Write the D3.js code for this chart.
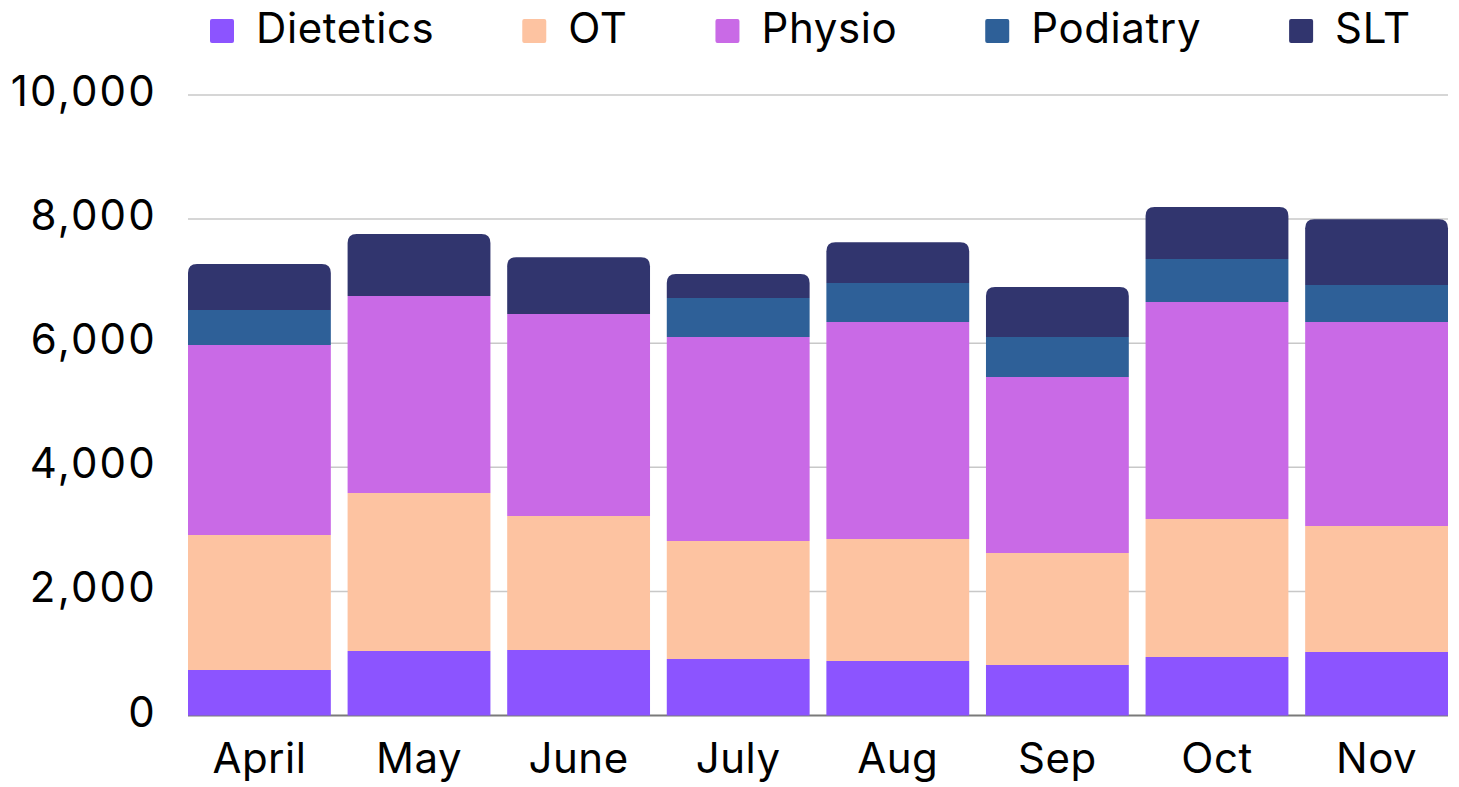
<!DOCTYPE html>
<html lang='en'>
<head>
	<meta charset='utf-8'>
	<title>Therapy Contacts by Month</title>
	<script src="https://d3js.org/d3.v7.min.js"></script>
	<style>
		body{margin:0;background:#fff;}
		text{font-family:Inter,'Open Sans',sans-serif;fill:#000;}
	</style>
</head>
<body>
<div id='chart'></div>
<script type='text/javascript'>
	// values
	const months = ["April","May","June","July","Aug","Sep","Oct","Nov"];
	const dietetics = [733,1039,1056,911,878,814,943,1023];
	const ot = [2176,2547,2159,1901,1966,1805,2224,2031];
	const physio = [3062,3175,3256,3288,3498,2836,3497,3288];
	const podiatry = [564,0,0,628,628,645,693,596];
	const slt = [741,999,913,387,656,806,838,1059];
	const seriesNames = ["Dietetics","OT","Physio","Podiatry","SLT"];
	const yTicks = [0,2000,4000,6000,8000,10000];

	const svg_block = {width:1459,height:787};
	let plot = {left:188,right:1448,top:95,bottom:715.5};
	let colors = d3.scaleOrdinal()
					.domain(seriesNames)
					.range(['#8c54ff','#fdc3a1','#c96ae6','#2e6098','#31356e']);

	//build rows for the stack
	let seriesValues = [dietetics,ot,physio,podiatry,slt];
	let data = months.map(function(m,i){
		let row = {month:m};
		seriesNames.forEach(function(s,j){ row[s] = seriesValues[j][i]; });
		return row;
	});
	let stacked = d3.stack().keys(seriesNames)(data);

	let svg = d3.select("#chart")
				.append("svg")
					.attr("width",svg_block.width)
					.attr("height",svg_block.height);

	let xAxis = d3.scaleBand()
					.domain(months)
					.range([plot.left,plot.right])
					.paddingInner(0.105)
					.paddingOuter(0);

	let yAxis = d3.scaleLinear()
					.domain([0,10000])
					.range([plot.bottom,plot.top]);

	//gridlines
	svg.append("g")
		.selectAll("line")
		.data(yTicks.filter(function(d){return d>0;}))
		.enter()
		.append("line")
			.attr("x1",plot.left)
			.attr("x2",plot.right)
			.attr("y1",function(d){return yAxis(d);})
			.attr("y2",function(d){return yAxis(d);})
			.attr("stroke","#c8c8c8")
			.attr("stroke-width",1.5);

	//baseline
	svg.append("line")
		.attr("x1",plot.left)
		.attr("x2",plot.right)
		.attr("y1",yAxis(0))
		.attr("y2",yAxis(0))
		.attr("stroke","#7a7a7a")
		.attr("stroke-width",2);

	//y tick labels
	svg.append("g")
		.selectAll("text")
		.data(yTicks)
		.enter()
		.append("text")
			.attr("x",157)
			.attr("y",function(d){return yAxis(d) + 11;})
			.style("text-anchor","end")
			.style("font-size","42px")
			.style("letter-spacing","2.2px")
			.text(d3.format(","));

	//find which segment is the top one of each bar (for rounded corners)
	let topKey = data.map(function(d){
		let k = null;
		seriesNames.forEach(function(s){ if(d[s] > 0) k = s; });
		return k;
	});

	function segPath(x,y0,y1,w,r){
		// rectangle with rounded top corners
		let h = y0 - y1;
		r = Math.min(r,h,w/2);
		return `M${x},${y0}L${x},${y1+r}Q${x},${y1} ${x+r},${y1}L${x+w-r},${y1}Q${x+w},${y1} ${x+w},${y1+r}L${x+w},${y0}Z`;
	}

	svg.append("g")
		.selectAll("g")
		.data(stacked)
		.enter()
		.append("g")
			.attr("fill",function(d){return colors(d.key);})
		.selectAll("path")
		.data(function(d){
			return d.map(function(v,i){ return {key:d.key,i:i,y0:v[0],y1:v[1],month:v.data.month}; })
					.filter(function(v){ return v.y1 > v.y0; });
		})
		.enter()
		.append("path")
			.attr("d",function(d){
				let x = xAxis(d.month);
				let w = xAxis.bandwidth();
				let r = (topKey[d.i] === d.key) ? 9 : 0;
				return segPath(x,yAxis(d.y0),yAxis(d.y1),w,r);
			});

	//x labels
	svg.append("g")
		.selectAll("text")
		.data(months)
		.enter()
		.append("text")
			.attr("x",function(d){return xAxis(d) + xAxis.bandwidth()/2;})
			.attr("y",773)
			.style("text-anchor","middle")
			.style("font-size","42px")
			.style("letter-spacing","0.5px")
			.text(function(d){return d;});

	//legend, laid out by text width
	let legend = svg.append("g");
	let lx = 210;
	seriesNames.forEach(function(s){
		legend.append("rect")
			.attr("x",lx).attr("y",19)
			.attr("width",24).attr("height",24)
			.attr("rx",2)
			.attr("fill",colors(s));
		let t = legend.append("text")
			.attr("x",lx + 46).attr("y",43)
			.style("font-size","42px")
			.style("letter-spacing","0.6px")
			.text(s);
		lx = lx + 46 + t.node().getComputedTextLength() + 88;
	});
</script>
</body>
</html>
